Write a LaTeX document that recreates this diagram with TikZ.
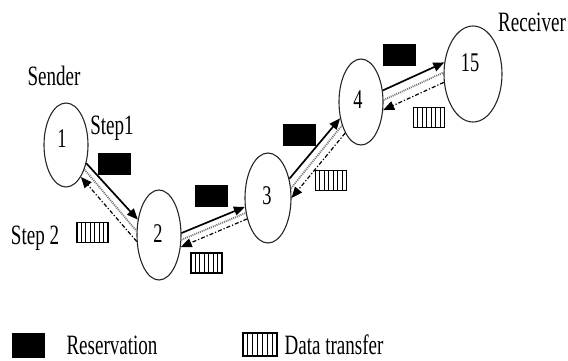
\documentclass[tikz,border=0pt]{standalone}
\usepackage{fontspec}
\setmainfont{Liberation Serif}
\usepackage{graphicx}
\usetikzlibrary{arrows.meta,shapes.geometric,calc}
\newcommand{\narrowtext}[1]{\scalebox{0.68}[1]{#1}}

\begin{document}
\begin{tikzpicture}[x=1pt,y=-1pt,
  hop/.style={draw=black!85, line width=1.1pt, ellipse, inner sep=0pt},
  txt/.style={inner sep=0pt, font=\fontsize{28}{30}\selectfont},
  num/.style={inner sep=0pt, font=\fontsize{27}{29}\selectfont},
  resbox/.style={fill=black, draw=black, inner sep=0pt, minimum width=32pt, minimum height=21pt},
  datbox/.style={draw=black, line width=1.2pt, inner sep=0pt, minimum width=31pt, minimum height=20pt,
    path picture={
      \foreach \k in {1,...,6}{
        \coordinate (hb) at ($(path picture bounding box.south west)!\k/7!(path picture bounding box.south east)$);
        \draw[line width=1pt] (hb) -- (hb |- path picture bounding box.north);
      }
    }},
  fwd/.style={line width=1.7pt, -{Triangle[length=11pt,width=9pt]}},
  back/.style={line width=1.2pt, dash pattern=on 4pt off 2pt on 1.2pt off 2pt, -{Triangle[length=11pt,width=9pt]}},
  band/.style={line width=1.8pt, black!55, dash pattern=on 1pt off 1pt}
]
\useasboundingbox (0,0) rectangle (568,360);

% hops along the path
\node[hop, minimum width=44pt, minimum height=84pt] (n1) at (66,145) {};
\node[hop, minimum width=44pt, minimum height=90pt] (n2) at (159,235) {};
\node[hop, minimum width=46pt, minimum height=90pt] (n3) at (268,198) {};
\node[hop, minimum width=44pt, minimum height=86pt] (n4) at (361,102) {};
\node[hop, minimum width=58pt, minimum height=96pt] (n15) at (473,74) {};

\node[num] (t1) at (62,139) {\narrowtext{1}};
\node[num] (t2) at (158,234) {\narrowtext{2}};
\node[num] (t3) at (267,196) {\narrowtext{3}};
\node[num] (t4) at (358,100) {\narrowtext{4}};
\node[num] (t15) at (470,63) {\narrowtext{15}};

% labels
\node[txt] (sender) at (54,76) {\narrowtext{Sender}};
\node[txt] (receiver) at (532,22) {\narrowtext{Receiver}};
\node[txt] (step1) at (112,128) {\narrowtext{Step1}};
\node[txt] (step2) at (35,238) {\narrowtext{Step 2}};

% link 1 -- 2
\draw[fwd] (n1.-42) -- (n2.144.5);
\draw[band] (n1.-53) -- (n2.170);
\draw[back] (n2.-164.5) -- (n1.-65);
% link 2 -- 3
\draw[fwd] (n2.5) -- (n3.201.4);
\draw[band] (n2.-12) -- (n3.214);
\draw[back] (n3.-135) -- (n2.-29.7);
% link 3 -- 4
\draw[fwd] (n3.42) -- (n4.218.7);
\draw[band] (n3.23) -- (n4.231.6);
\draw[back] (n4.-117.7) -- (n3.0);
% link 4 -- 15
\draw[fwd] (n4.28.6) -- (n15.158);
\draw[band] (n4.5) -- (n15.177);
\draw[back] (n15.-164) -- (n4.-20);

% reservation messages
\node[resbox] (r1) at (114,164) {};
\node[resbox] (r2) at (211,195.5) {};
\node[resbox] (r3) at (299,134.5) {};
\node[resbox] (r4) at (399,54.5) {};

% data transfer messages
\node[datbox] (d1) at (92.5,232.5) {};
\node[datbox] (d2) at (206.5,263) {};
\node[datbox] (d3) at (331,180.5) {};
\node[datbox] (d4) at (429,117.5) {};

% legend
\node[resbox, minimum height=24pt] (lr) at (28,345) {};
\node[txt] (lrt) at (112,345) {\narrowtext{Reservation}};
\node[datbox, minimum width=34pt, minimum height=23pt] (ld) at (260,344.5) {};
\node[txt] (ldt) at (334,345) {\narrowtext{Data transfer}};
\end{tikzpicture}
\end{document}
